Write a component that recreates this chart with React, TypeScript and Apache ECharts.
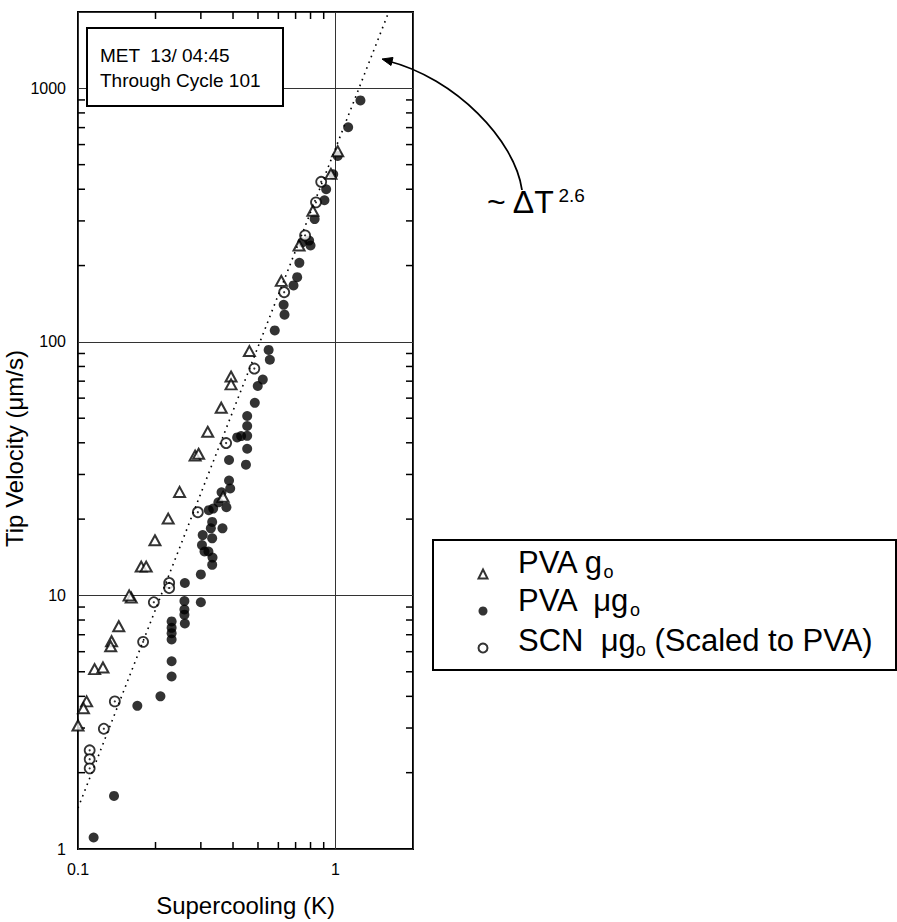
import React, { useEffect, useRef } from 'react';
import * as echarts from 'echarts';

const FONT = '"Liberation Sans", Arial, Helvetica, sans-serif';

const X_MIN = 0.1;
const X_MAX = 2;
const Y_MIN = 1;
const Y_MAX = 2000;

const xTickLabels = ['0.1', '1'];
const yTickLabels = ['1', '10', '100', '1000'];
const xMinorTicks = [0.2, 0.3, 0.4, 0.5, 0.6, 0.7, 0.8, 0.9];
const yMinorTicks = [2, 3, 4, 5, 6, 7, 8, 9, 20, 30, 40, 50, 60, 70, 80, 90, 200, 300, 400, 500, 600, 700, 800, 900];

// PVA, ground (1 g)  -- open triangles
const pvaGround: number[][] = [
  [1.02, 565], [0.96, 460], [0.817, 329], [0.722, 240], [0.616, 174], [0.463, 92],
  [0.393, 73], [0.393, 68], [0.36, 55], [0.319, 44.2], [0.285, 35.6], [0.294, 36.2],
  [0.248, 25.6], [0.366, 24.5], [0.224, 20.1], [0.199, 16.5], [0.176, 13], [0.184, 13],
  [0.161, 9.8], [0.158, 10], [0.144, 7.56], [0.135, 6.6], [0.134, 6.3], [0.116, 5.12],
  [0.125, 5.2], [0.108, 3.82], [0.105, 3.59], [0.1, 3.07],
];

// PVA, microgravity -- filled circles
const pvaMicro: number[][] = [
  [1.25, 896], [1.12, 702], [1.02, 541], [0.98, 458], [0.92, 400], [0.906, 362],
  [0.83, 305], [0.79, 251], [0.743, 247], [0.8, 240], [0.724, 205], [0.71, 180],
  [0.687, 167], [0.629, 140], [0.634, 128], [0.581, 111], [0.55, 93], [0.556, 85],
  [0.522, 71], [0.499, 67], [0.486, 57.5], [0.454, 51], [0.454, 46.6], [0.454, 42.6],
  [0.454, 37.9], [0.415, 42], [0.43, 42.5], [0.386, 34.2], [0.449, 32.8], [0.386, 28.4],
  [0.39, 26.4], [0.361, 25.5], [0.351, 23.3], [0.335, 22], [0.377, 22.3], [0.322, 21.7],
  [0.332, 19.5], [0.328, 18.4], [0.364, 18.4], [0.303, 15.8], [0.332, 16.8], [0.321, 14.9],
  [0.333, 14.1], [0.332, 13.2], [0.31, 14.9], [0.305, 17.3], [0.3, 12.1], [0.26, 11.2],
  [0.3, 9.4], [0.259, 9.5], [0.259, 8.8], [0.259, 8.4], [0.26, 7.75], [0.231, 7.9],
  [0.231, 7.45], [0.231, 7.1], [0.231, 6.7], [0.231, 5.5], [0.231, 4.79], [0.209, 4.0],
  [0.17, 3.67], [0.138, 1.62], [0.115, 1.11],
];

// SCN, microgravity (scaled to PVA) -- open circles with centre dot
const scnMicro: number[][] = [
  [0.88, 428], [0.84, 355], [0.762, 263], [0.632, 157], [0.484, 78.5], [0.376, 39.9],
  [0.292, 21.3], [0.226, 11.2], [0.226, 10.7], [0.197, 9.4], [0.179, 6.56], [0.139, 3.82],
  [0.126, 2.98], [0.111, 2.45], [0.111, 2.26], [0.111, 2.08],
];

// power-law guide ~ dT^2.6 (end points)
const fitLine: number[][] = [[0.1, 1.45], [1.61, 2000]];

const NAME_G = 'PVA go';
const NAME_MU = 'PVA μgo';
const NAME_SCN = 'SCN μgo (Scaled to PVA)';
const legendNames = [NAME_G, NAME_MU, NAME_SCN];
const legendRich = [
  '{a|PVA g}{s|o}',
  '{a|PVA  μg}{s|o}',
  '{a|SCN  μg}{s|o}{a| (Scaled to PVA)}',
];

export default function App() {
  const ref = useRef<HTMLDivElement>(null);
  useEffect(() => {
    if (!ref.current) return;
    const chart = echarts.init(ref.current, null, { renderer: 'svg' });
    const labelFmt = (labels: string[]) => (v: number) => {
      const hit = labels.find((l) => Math.abs(Math.log10(v) - Math.log10(Number(l))) < 1e-6);
      return hit ?? '';
    };
    const TL = 7;
    const tickStyle = { stroke: '#000', lineWidth: 1.5 };
    const legendTextY = [562, 600, 640];
    const legendTexts = legendRich.map((txt, i) => ({
      type: 'text', z: 101, x: 518, y: legendTextY[i],
      style: {
        text: txt, verticalAlign: 'middle', fill: '#000',
        rich: {
          a: { fontSize: 31, lineHeight: 38, fontFamily: FONT, fill: '#000' },
          s: { fontSize: 18, lineHeight: 18, verticalAlign: 'bottom', fontFamily: FONT, fill: '#000' },
        },
      },
    }));
    chart.setOption({
      animation: false,
      backgroundColor: '#fff',
      textStyle: { fontFamily: FONT },
      grid: {
        left: 78, right: 484, top: 12, bottom: 66,
        show: true, borderColor: '#000', borderWidth: 2, backgroundColor: 'transparent',
      },
      xAxis: {
        type: 'log', logBase: 10, min: X_MIN, max: X_MAX,
        axisLine: { show: false }, axisTick: { show: false },
        splitLine: { show: true, lineStyle: { color: '#333', width: 1 } },
        axisLabel: { formatter: labelFmt(xTickLabels), fontSize: 16, color: '#000', margin: 12, fontFamily: FONT },
        name: 'Supercooling (K)', nameLocation: 'middle', nameGap: 44,
        nameTextStyle: { fontSize: 24, color: '#000', fontFamily: FONT },
      },
      yAxis: {
        type: 'log', logBase: 10, min: Y_MIN, max: Y_MAX,
        axisLine: { show: false }, axisTick: { show: false },
        splitLine: { show: true, lineStyle: { color: '#333', width: 1 } },
        axisLabel: { formatter: labelFmt(yTickLabels), fontSize: 16, color: '#000', margin: 12, fontFamily: FONT },
        name: 'Tip Velocity (μm/s)', nameLocation: 'middle', nameGap: 43, nameRotate: 90,
        nameTextStyle: { fontSize: 24, color: '#000', fontFamily: FONT, padding: [0, 36, 0, 0] },
      },
      legend: {
        orient: 'vertical', left: 477.5, top: 568.5, padding: 0,
        itemWidth: 9, itemHeight: 9, itemGap: 27,
        data: legendNames,
        formatter: () => '',
        selectedMode: false,
      },
      graphic: [
        { type: 'rect', z: 100, shape: { x: 87, y: 28, width: 196, height: 78 }, style: { fill: '#fff', stroke: '#000', lineWidth: 2 } },
        { type: 'text', z: 101, x: 100, y: 55, style: { text: 'MET  13/ 04:45', fontSize: 19, fontFamily: FONT, fill: '#000', verticalAlign: 'middle' } },
        { type: 'text', z: 101, x: 100, y: 80, style: { text: 'Through Cycle 101', fontSize: 19, fontFamily: FONT, fill: '#000', verticalAlign: 'middle' } },
        { type: 'rect', z: 100, shape: { x: 433, y: 540, width: 463, height: 130 }, style: { fill: 'none', stroke: '#000', lineWidth: 2 } },
        ...legendTexts,
        {
          type: 'bezierCurve', z: 100,
          shape: { x1: 522, y1: 190, cpx1: 515, cpy1: 140, cpx2: 455, cpy2: 78, x2: 388, y2: 61 },
          style: { stroke: '#000', lineWidth: 1.8, fill: 'none' },
        },
        {
          type: 'polygon', z: 100,
          shape: { points: [[382, 59], [393, 57.5], [391, 65.5]] },
          style: { fill: '#000', stroke: '#000', lineWidth: 1 },
        },
        {
          type: 'text', z: 100, x: 487, y: 186,
          style: {
            text: '{a|~ ΔT}{b|2.6}', verticalAlign: 'top', fill: '#000',
            rich: {
              a: { fontSize: 32, lineHeight: 42, verticalAlign: 'top', fontFamily: FONT, fill: '#000' },
              b: { fontSize: 19, lineHeight: 19, verticalAlign: 'top', padding: [0, 0, 0, 3], fontFamily: FONT, fill: '#000' },
            },
          },
        },
      ],
      series: [
        {
          type: 'custom', silent: true, coordinateSystem: 'cartesian2d',
          data: xMinorTicks.map((v) => [v, Y_MIN]),
          renderItem: (_p: any, api: any) => {
            const v = api.value(0);
            const b = api.coord([v, Y_MIN]);
            const t = api.coord([v, Y_MAX]);
            return {
              type: 'group',
              children: [
                { type: 'line', shape: { x1: b[0], y1: b[1], x2: b[0], y2: b[1] - TL }, style: tickStyle },
                { type: 'line', shape: { x1: t[0], y1: t[1], x2: t[0], y2: t[1] + TL }, style: tickStyle },
              ],
            };
          },
        },
        {
          type: 'custom', silent: true, coordinateSystem: 'cartesian2d',
          data: yMinorTicks.map((v) => [X_MIN, v]),
          renderItem: (_p: any, api: any) => {
            const v = api.value(1);
            const l = api.coord([X_MIN, v]);
            const r = api.coord([X_MAX, v]);
            return {
              type: 'group',
              children: [
                { type: 'line', shape: { x1: l[0], y1: l[1], x2: l[0] + TL, y2: l[1] }, style: tickStyle },
                { type: 'line', shape: { x1: r[0], y1: r[1], x2: r[0] - TL, y2: r[1] }, style: tickStyle },
              ],
            };
          },
        },
        {
          type: 'line', silent: true, data: fitLine, showSymbol: false, symbol: 'none',
          lineStyle: { color: '#000', width: 1.6, type: [1.6, 4.6] },
        },
        {
          name: NAME_MU, type: 'scatter', data: pvaMicro, symbol: 'circle', symbolSize: 10,
          itemStyle: { color: '#000' },
        },
        {
          name: NAME_SCN, type: 'scatter', data: scnMicro, symbol: 'circle', symbolSize: 10,
          itemStyle: { color: '#fff', borderColor: '#000', borderWidth: 1.8 },
        },
        {
          type: 'scatter', silent: true, data: scnMicro, symbol: 'circle', symbolSize: 2.2,
          itemStyle: { color: '#000' },
        },
        {
          name: NAME_G, type: 'scatter', data: pvaGround, symbol: 'triangle', symbolSize: [11, 10],
          itemStyle: { color: '#fff', borderColor: '#000', borderWidth: 2 },
        },
      ],
    });
    return () => chart.dispose();
  }, []);
  return <div ref={ref} style={{ position: 'fixed', left: 0, top: 0, width: 897, height: 922 }} />;
}
